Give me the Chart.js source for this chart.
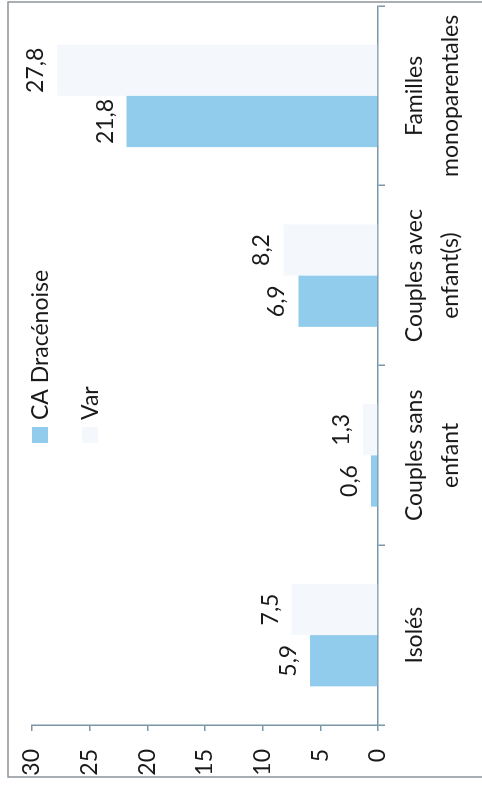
<!DOCTYPE html>
<html lang="fr">

<head>
    <meta charset="UTF-8">
    <script src="https://cdn.jsdelivr.net/npm/chart.js@4.4.1/dist/chart.umd.min.js"></script>
    <title>Ménages</title>
    <style>
        body { margin: 0; background: #fff; overflow: hidden; }
        /* le graphique est dessiné à l'horizontale puis tourné d'un quart de tour */
        #wrap {
            position: absolute; left: 0; top: 0;
            width: 792px; height: 482px;
            transform-origin: 0 0;
            transform: translate(0, 792px) rotate(-90deg);
        }
    </style>
</head>

<body>
    <div id="wrap">
        <canvas id="myChart" width="792" height="482"></canvas>
    </div>
    <script>
        const categories = [['Isolés'], ['Couples sans', 'enfant'], ['Couples avec', 'enfant(s)'], ['Familles', 'monoparentales']];
        const seriesNames = ['CA Dracénoise', 'Var'];
        const caValues = [5.9, 0.6, 6.9, 21.8];
        const varValues = [7.5, 1.3, 8.2, 27.8];
        const valueTicks = [0, 5, 10, 15, 20, 25, 30];

        const axisColor = '#7b97a8';
        const textColor = '#1a1a1a';
        const font = 'Lato';

        // cadre gris autour du graphique
        const framePlugin = {
            id: 'frame',
            beforeDraw(chart) {
                const c = chart.ctx;
                c.save();
                c.strokeStyle = '#8d949a';
                c.lineWidth = 1.5;
                c.strokeRect(15, 8, 775, 500);
                c.restore();
            }
        };

        // étiquettes de valeur au-dessus des barres
        const labelPlugin = {
            id: 'valLabels',
            afterDatasetsDraw(chart) {
                const c = chart.ctx;
                c.save();
                c.fillStyle = textColor;
                c.font = '23px ' + font;
                c.textAlign = 'center';
                c.textBaseline = 'alphabetic';
                chart.data.datasets.forEach(function (ds, i) {
                    chart.getDatasetMeta(i).data.forEach(function (bar, j) {
                        c.fillText(String(ds.data[j]).replace('.', ','), bar.x, bar.y - 14);
                    });
                });
                c.restore();
            }
        };

        // légende posée dans la zone du graphique, une ligne par série
        const legendPlugin = {
            id: 'myLegend',
            afterDraw(chart) {
                const c = chart.ctx;
                const x0 = chart.chartArea.left + 282;
                c.save();
                c.font = '23px ' + font;
                c.textBaseline = 'alphabetic';
                chart.data.datasets.forEach(function (ds, i) {
                    const y = 32 + i * 50;
                    c.fillStyle = ds.backgroundColor;
                    c.fillRect(x0, y, 16, 16);
                    c.fillStyle = textColor;
                    c.fillText(ds.label, x0 + 23, y + 16);
                });
                c.restore();
            }
        };

        const ctx = document.getElementById('myChart').getContext('2d');
        const myChart = new Chart(ctx, {
            type: 'bar',
            data: {
                labels: categories,
                datasets: [{
                    label: seriesNames[0],
                    data: caValues,
                    backgroundColor: '#92ccec',
                    categoryPercentage: 0.57,
                    barPercentage: 1
                }, {
                    label: seriesNames[1],
                    data: varValues,
                    backgroundColor: '#f4f8fc',
                    categoryPercentage: 0.57,
                    barPercentage: 1
                }]
            },
            options: {
                responsive: false,
                animation: false,
                devicePixelRatio: 1,
                layout: { padding: { left: 14, right: 6, top: 32, bottom: 10 } },
                plugins: {
                    legend: { display: false },
                    tooltip: { enabled: false }
                },
                scales: {
                    x: {
                        afterFit(s) { s.height = 94; },
                        grid: { drawOnChartArea: false, tickLength: 7, color: axisColor, lineWidth: 1.5 },
                        border: { color: axisColor, width: 1.5 },
                        ticks: {
                            color: textColor, autoSkip: false, maxRotation: 0, padding: 12,
                            font: { family: font, size: 23, lineHeight: 1.55 }
                        }
                    },
                    y: {
                        min: 0, max: 30,
                        afterFit(s) { s.width = 53; },
                        afterBuildTicks(s) { s.ticks = valueTicks.map(v => ({ value: v })); },
                        grid: { drawOnChartArea: false, tickLength: 6, color: axisColor, lineWidth: 1.5 },
                        border: { color: axisColor, width: 1.5 },
                        ticks: { color: textColor, padding: 18, font: { family: font, size: 23 } }
                    }
                }
            },
            plugins: [framePlugin, labelPlugin, legendPlugin]
        });
    </script>
</body>

</html>
